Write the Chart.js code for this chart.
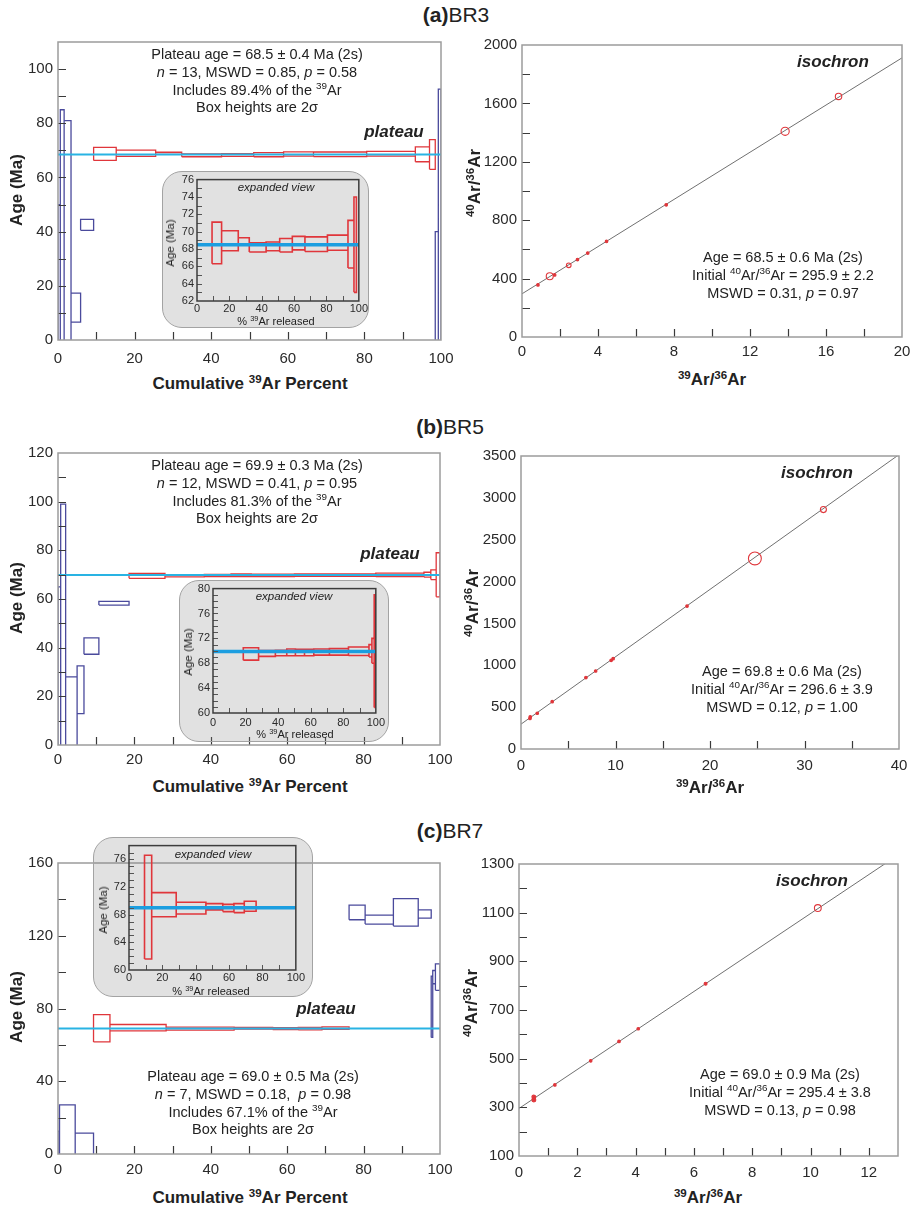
<!DOCTYPE html>
<html>
<head>
<meta charset="utf-8">
<title>Ar-Ar step heating and isochrons</title>
<script src="https://cdn.jsdelivr.net/npm/chart.js@4.4.1/dist/chart.umd.min.js"></script>
<style>
  body { margin: 0; background: #fff; }
  #fig { position: relative; width: 913px; height: 1213px; overflow: hidden; background: #fff;
         font-family: 'Liberation Sans', Arial, sans-serif; color: #222; }
  #fig canvas { position: absolute; }
  .t { position: absolute; white-space: nowrap; text-align: center; transform: translate(-50%, -50%); }
  .inset { position: absolute; box-sizing: border-box; background: rgba(130,130,130,0.24);
           border: 1px solid #a3a3a3; border-radius: 20px; }
  sup { font-size: 68%; line-height: 0; vertical-align: baseline; position: relative; top: -0.55em; }
</style>
</head>
<body>
<div id="fig"></div>
<script>
// step edges = cumulative 39Ar released (%), ages are 2 sigma low / high (Ma)
const cumBR3 = [0, 0.6, 1.6, 3.4, 5.9, 9.3, 15.2, 25.5, 32.3, 42.7, 51.1, 58.9, 66.7, 80.6, 93.3, 97.0, 98.5, 99.3, 100]
const loBR3 = [-10, -10, -10, 6.6, 40.5, 66.3, 67.8, 68.5, 67.65, 67.8, 67.65, 67.9, 67.7, 67.85, 65.8, 63.0, -10, -10]
const hiBR3 = [50, 85, 81, 17.3, 44.5, 71.1, 70.1, 69.3, 68.7, 68.8, 69.2, 69.45, 69.4, 69.6, 71.3, 74.0, 40, 92.6]
const plateauStepsBR3 = [5, 15]
const plateauAgeBR3 = 68.5

const cumBR5 = [0, 0.7, 2.0, 5.0, 6.8, 10.7, 18.6, 28.0, 38.3, 45.3, 50.6, 56.2, 61.9, 71.5, 83.2, 95.8, 97.6, 99.0, 100]
const loBR5 = [-10, -10, -10, 12.9, 37.3, 57.5, 68.5, 69.1, 69.2, 69.2, 69.2, 69.2, 69.3, 69.3, 69.25, 69.0, 68.0, 60.9]
const hiBR5 = [65, 99, 28, 32.5, 44, 59, 70.5, 70.05, 70.1, 70.3, 70.25, 70.25, 70.3, 70.35, 70.6, 71.0, 72.0, 79.0]
const plateauStepsBR5 = [6, 17]
const plateauAgeBR5 = 69.9

const cumBR7 = [0, 0.4, 4.5, 9.3, 13.6, 28.3, 46.1, 56.2, 62.9, 69.1, 76.2, 80.4, 87.8, 94.3, 97.7, 98.1, 98.8, 100]
const loBR7 = [-10, -10, -10, 61.6, 67.7, 68.1, 68.7, 68.45, 68.3, 68.5, 128.8, 126.4, 125.3, 129.7, 64.1, 93.6, 90]
const hiBR7 = [12.5, 27, 11.5, 76.6, 71.2, 69.8, 69.6, 69.5, 69.6, 69.95, 136.8, 131.3, 140.4, 134.2, 97.8, 100.9, 104.5]
const plateauStepsBR7 = [3, 9]
const plateauAgeBR7 = 69.0

// inverse isochrons: 39Ar/36Ar, 40Ar/36Ar, 2 sigma on 40Ar/36Ar
const isoXBR3 = [0.84, 1.46, 1.72, 2.46, 2.92, 3.46, 4.45, 7.59, 13.85, 16.66]
const isoYBR3 = [357, 416, 425, 491, 530, 575, 655, 905, 1409, 1648]
const isoErrBR3 = [7, 24, 6, 16, 6, 9, 9, 8, 28, 22]
const isoFitBR3 = [295.9, 80.8]   // intercept, slope

const isoXBR5 = [0.95, 0.98, 1.72, 3.3, 6.87, 7.9, 9.54, 9.75, 17.57, 24.75, 32.0]
const isoYBR5 = [365, 385, 427, 565, 853, 932, 1059, 1079, 1707, 2276, 2860]
const isoErrBR5 = [15, 15, 8, 8, 15, 8, 12, 12, 15, 77, 36]
const isoFitBR5 = [296.6, 80.5]

const isoXBR7 = [0.51, 0.51, 1.23, 2.46, 3.43, 4.09, 6.4, 10.25]
const isoYBR7 = [330, 342, 392, 491, 571, 623, 808, 1119]
const isoErrBR7 = [8, 8, 4, 5, 5, 5, 6, 14]
const isoFitBR7 = [295.4, 80.1]

// tick labels
const pctTicks = [0, 20, 40, 60, 80, 100]
const ageTicksBR3 = [0, 20, 40, 60, 80, 100]
const ageTicksBR5 = [0, 20, 40, 60, 80, 100, 120]
const ageTicksBR7 = [0, 40, 80, 120, 160]
const zoomTicksBR3 = [62, 64, 66, 68, 70, 72, 74, 76]
const zoomTicksBR5 = [60, 64, 68, 72, 76, 80]
const zoomTicksBR7 = [60, 64, 68, 72, 76]
const ratioXTicksBR3 = [0, 4, 8, 12, 16, 20]
const ratioYTicksBR3 = [0, 400, 800, 1200, 1600, 2000]
const ratioXTicksBR5 = [0, 10, 20, 30, 40]
const ratioYTicksBR5 = [0, 500, 1000, 1500, 2000, 2500, 3000, 3500]
const ratioXTicksBR7 = [0, 2, 4, 6, 8, 10, 12]
const ratioYTicksBR7 = [100, 300, 500, 700, 900, 1100, 1300]

const FONT = "'Liberation Sans', Arial, sans-serif"
const RED = '#e0363b'
const BLUE = '#4a4a9c'
const CYAN = '#29b3e3'
const CYAN2 = '#1c9ee0'
const MAIN_PAD = { l: 50, r: 24, t: 12, b: 30 }
const INSET_PAD = { l: 22, r: 10, t: 8, b: 16 }
const MAIN_MARKS = { len: 8, frameColor: '#9c9c9c', frameWidth: 1.5, tickColor: '#3a3a3a', tickWidth: 1.2 }
const INSET_MARKS = { len: 5, frameColor: '#3c3c3c', frameWidth: 1.5, tickColor: '#555', tickWidth: 1 }

Chart.defaults.font.family = FONT
const fig = document.getElementById('fig')

// frame + inward tick marks
const marksPlugin = {
  id: 'marks',
  afterDatasetsDraw(chart, args, o) {
    const { ctx, chartArea: a, scales: { x, y } } = chart
    ctx.save()
    ctx.beginPath()
    ctx.strokeStyle = o.tickColor
    ctx.lineWidth = o.tickWidth
    if (o.xStep) {
      for (let v = x.min + o.xStep; v < x.max - 1e-6; v += o.xStep) {
        const p = Math.round(x.getPixelForValue(v)) + 0.5
        ctx.moveTo(p, a.bottom)
        ctx.lineTo(p, a.bottom - o.len)
      }
    }
    if (o.yStep) {
      for (let v = y.min + o.yStep; v < y.max - 1e-6; v += o.yStep) {
        const p = Math.round(y.getPixelForValue(v)) + 0.5
        ctx.moveTo(a.left, p)
        ctx.lineTo(a.left + o.len, p)
      }
    }
    ctx.stroke()
    ctx.strokeStyle = o.frameColor
    ctx.lineWidth = o.frameWidth
    ctx.strokeRect(a.left, a.top, a.right - a.left, a.bottom - a.top)
    ctx.restore()
  }
}

function addCanvas(rect, pad) {
  const [l, t, r, b] = rect
  const c = document.createElement('canvas')
  const w = r - l + pad.l + pad.r
  const h = b - t + pad.t + pad.b
  c.width = w
  c.height = h
  c.style.left = (l - pad.l) + 'px'
  c.style.top = (t - pad.t) + 'px'
  c.style.width = w + 'px'
  c.style.height = h + 'px'
  fig.appendChild(c)
  return c
}

function scaleOpts(range, labels, size, pad, room) {
  return {
    type: 'linear',
    min: range[0],
    max: range[1],
    grid: { display: false, drawTicks: false },
    border: { display: false },
    ticks: { font: { size }, color: '#2a2a2a', padding: pad, autoSkip: false, maxRotation: 0, callback: v => String(v) },
    afterBuildTicks: s => { s.ticks = labels.map(v => ({ value: v })) },
    afterFit: s => { if (s.isHorizontal()) s.height = room; else s.width = room }
  }
}

function makeChart(rect, pad, datasets, x, y, marks) {
  return new Chart(addCanvas(rect, pad), {
    type: 'scatter',
    data: { datasets },
    options: {
      responsive: false,
      animation: false,
      events: [],
      layout: { padding: { top: pad.t, right: pad.r, left: 0, bottom: 0 } },
      plugins: { legend: { display: false }, tooltip: { enabled: false }, marks },
      scales: { x, y }
    },
    plugins: [marksPlugin]
  })
}

function boxPoints(cum, lo, hi, idx) {
  const pts = []
  idx.forEach(i => {
    pts.push({ x: cum[i], y: lo[i] }, { x: cum[i + 1], y: lo[i] }, { x: cum[i + 1], y: hi[i] },
      { x: cum[i], y: hi[i] }, { x: cum[i], y: lo[i] }, { x: null, y: null })
  })
  return pts
}

function outline(data, color, width) {
  return { data, showLine: true, borderColor: color, borderWidth: width, pointRadius: 0, fill: false, tension: 0 }
}

function stepSets(cum, lo, hi, plat, age, lineW, boxW, withOthers) {
  const idx = lo.map((_, i) => i)
  const inPlat = i => i >= plat[0] && i <= plat[1]
  const sets = [
    outline([{ x: pctTicks[0], y: age }, { x: pctTicks[pctTicks.length - 1], y: age }], lineW > 3 ? CYAN2 : CYAN, lineW),
    outline(boxPoints(cum, lo, hi, idx.filter(inPlat)), RED, boxW)
  ]
  if (withOthers) sets.push(outline(boxPoints(cum, lo, hi, idx.filter(i => !inPlat(i))), BLUE, boxW))
  return sets
}

function spectrum(rect, cum, lo, hi, plat, age, yRange, yTicks, yStep, xPad) {
  makeChart(rect, MAIN_PAD, stepSets(cum, lo, hi, plat, age, 2, 1.3, true),
    scaleOpts([0, 100], pctTicks, 15, xPad, MAIN_PAD.b),
    scaleOpts(yRange, yTicks, 15, 5, MAIN_PAD.l),
    Object.assign({ xStep: 10, yStep }, MAIN_MARKS))
}

function expanded(box, rect, cum, lo, hi, plat, age, yRange, yTicks, xPad) {
  const d = document.createElement('div')
  d.className = 'inset'
  d.style.left = box[0] + 'px'
  d.style.top = box[1] + 'px'
  d.style.width = (box[2] - box[0]) + 'px'
  d.style.height = (box[3] - box[1]) + 'px'
  fig.appendChild(d)
  makeChart(rect, INSET_PAD, stepSets(cum, lo, hi, plat, age, 3.5, 1.6, false),
    scaleOpts([0, 100], pctTicks, 11, xPad, INSET_PAD.b),
    scaleOpts(yRange, yTicks, 11, 3, INSET_PAD.l),
    Object.assign({ xStep: 10, yStep: 1 }, INSET_MARKS))
}

function errRadius(c, ys, es) {
  const y = c.chart.scales.y
  const i = c.dataIndex
  if (!y || i === undefined) return 2
  const r = Math.abs(y.getPixelForValue(ys[i] + es[i]) - y.getPixelForValue(ys[i]))
  return isFinite(r) ? Math.max(1.3, r) : 2
}

function isochron(rect, xs, ys, es, fit, xRange, xTicks, xStep, yRange, yTicks, yStep, xPad) {
  const x1 = xRange[1]
  const sets = [
    {
      data: xs.map((x, i) => ({ x, y: ys[i] })),
      showLine: false,
      pointStyle: 'circle',
      pointRadius: c => errRadius(c, ys, es),
      pointBorderColor: RED,
      pointBorderWidth: 1.1,
      pointBackgroundColor: c => errRadius(c, ys, es) < 2.2 ? RED : 'rgba(0,0,0,0)'
    },
    outline([{ x: 0, y: fit[0] }, { x: x1, y: fit[0] + fit[1] * x1 }], '#707070', 1)
  ]
  makeChart(rect, MAIN_PAD, sets,
    scaleOpts(xRange, xTicks, 15, xPad, MAIN_PAD.b),
    scaleOpts(yRange, yTicks, 15, 5, MAIN_PAD.l),
    Object.assign({ xStep, yStep }, MAIN_MARKS))
}

function text(html, x, y, css) {
  const d = document.createElement('div')
  d.className = 't'
  d.innerHTML = html
  d.style.left = x + 'px'
  d.style.top = y + 'px'
  Object.assign(d.style, css || {})
  fig.appendChild(d)
}

// ---- (a) BR3 ----
spectrum([58, 40, 441, 340], cumBR3, loBR3, hiBR3, plateauStepsBR3, plateauAgeBR3, [0, 110], ageTicksBR3, 10, 10)
expanded([162, 171, 369, 328], [197, 178, 359, 301], cumBR3, loBR3, hiBR3, plateauStepsBR3, plateauAgeBR3, [62, 76], zoomTicksBR3, 1)
isochron([522, 43, 902, 337], isoXBR3, isoYBR3, isoErrBR3, isoFitBR3, [0, 20], ratioXTicksBR3, 2, [0, 2000], ratioYTicksBR3, 200, 6)

// ---- (b) BR5 ----
spectrum([58, 451, 440, 745], cumBR5, loBR5, hiBR5, plateauStepsBR5, plateauAgeBR5, [0, 120], ageTicksBR5, 10, 6)
expanded([179, 580, 389, 742], [213, 587, 378, 713], cumBR5, loBR5, hiBR5, plateauStepsBR5, plateauAgeBR5, [60, 80], zoomTicksBR5, 3)
isochron([521, 454, 899, 749], isoXBR5, isoYBR5, isoErrBR5, isoFitBR5, [0, 40], ratioXTicksBR5, 5, [0, 3500], ratioYTicksBR5, 0, 8)

// ---- (c) BR7 ----
spectrum([58, 861, 440, 1154], cumBR7, loBR7, hiBR7, plateauStepsBR7, plateauAgeBR7, [0, 160], ageTicksBR7, 20, 7)
expanded([93, 837, 313, 997], [129, 844, 296, 970], cumBR7, loBR7, hiBR7, plateauStepsBR7, plateauAgeBR7, [60, 78], zoomTicksBR7, 1)
isochron([519, 862, 898, 1156], isoXBR7, isoYBR7, isoErrBR7, isoFitBR7, [0, 13], ratioXTicksBR7, 1, [100, 1300], ratioYTicksBR7, 100, 8)

// ---- text ----
const TITLE = { fontSize: '21px' }
const AXIS = { fontSize: '17px', fontWeight: 'bold' }
const AXIS_V = { fontSize: '17px', fontWeight: 'bold', transform: 'translate(-50%, -50%) rotate(-90deg)' }
const NOTE = { fontSize: '14.5px', lineHeight: '17.8px' }
const TAG = { fontSize: '17px', fontWeight: 'bold', fontStyle: 'italic' }
const SMALL = { fontSize: '11px' }
const SMALL_V = { fontSize: '11.5px', transform: 'translate(-50%, -50%) rotate(-90deg)' }
const SMALL_I = { fontSize: '11.5px', fontStyle: 'italic' }

text('<b>(a)</b>BR3', 456, 15, TITLE)
text('<b>(b)</b>BR5', 450, 427, TITLE)
text('<b>(c)</b>BR7', 450, 831, TITLE)

const pctTitle = 'Cumulative <sup>39</sup>Ar Percent'
const ageTitle = 'Age (Ma)'
const ratioY = '<sup>40</sup>Ar/<sup>36</sup>Ar'
const ratioX = '<sup>39</sup>Ar/<sup>36</sup>Ar'
text(ageTitle, 17, 190, AXIS_V)
text(pctTitle, 250, 384, AXIS)
text(ageTitle, 17, 598, AXIS_V)
text(pctTitle, 250, 787, AXIS)
text(ageTitle, 17, 1007, AXIS_V)
text(pctTitle, 250, 1198, AXIS)
text(ratioY, 475, 183, AXIS_V)
text(ratioX, 712, 380, AXIS)
text(ratioY, 473, 603, AXIS_V)
text(ratioX, 710, 788, AXIS)
text(ratioY, 472, 1003, AXIS_V)
text(ratioX, 708, 1198, AXIS)

text('Plateau age = 68.5 ± 0.4 Ma (2s)<br><i>n</i> = 13, MSWD = 0.85, <i>p</i> = 0.58<br>Includes 89.4% of the <sup>39</sup>Ar<br>Box heights are 2σ', 257, 82, NOTE)
text('Plateau age = 69.9 ± 0.3 Ma (2s)<br><i>n</i> = 12, MSWD = 0.41, <i>p</i> = 0.95<br>Includes 81.3% of the <sup>39</sup>Ar<br>Box heights are 2σ', 257, 493, NOTE)
text('Plateau age = 69.0 ± 0.5 Ma (2s)<br><i>n</i> = 7, MSWD = 0.18,&nbsp; <i>p</i> = 0.98<br>Includes 67.1% of the <sup>39</sup>Ar<br>Box heights are 2σ', 253, 1104, NOTE)
text('plateau', 394, 132, TAG)
text('plateau', 390, 554, TAG)
text('plateau', 326, 1009, TAG)

text('Age = 68.5 ± 0.6 Ma (2s)<br>Initial <sup>40</sup>Ar/<sup>36</sup>Ar = 295.9 ± 2.2<br>MSWD = 0.31, <i>p</i> = 0.97', 783, 276, NOTE)
text('Age = 69.8 ± 0.6 Ma (2s)<br>Initial <sup>40</sup>Ar/<sup>36</sup>Ar = 296.6 ± 3.9<br>MSWD = 0.12, <i>p</i> = 1.00', 782, 690, NOTE)
text('Age = 69.0 ± 0.9 Ma (2s)<br>Initial <sup>40</sup>Ar/<sup>36</sup>Ar = 295.4 ± 3.8<br>MSWD = 0.13, <i>p</i> = 0.98', 780, 1093, NOTE)
text('isochron', 833, 62, TAG)
text('isochron', 817, 473, TAG)
text('isochron', 812, 881, TAG)

const released = '% <sup>39</sup>Ar released'
text('expanded view', 276, 187, SMALL_I)
text(released, 276, 321, SMALL)
text('Age (Ma)', 170, 243, SMALL_V)
text('expanded view', 294, 596, SMALL_I)
text(released, 295, 734, SMALL)
text('Age (Ma)', 188, 652, SMALL_V)
text('expanded view', 213, 854, SMALL_I)
text(released, 211, 991, SMALL)
text('Age (Ma)', 103, 910, SMALL_V)
</script>
</body>
</html>
